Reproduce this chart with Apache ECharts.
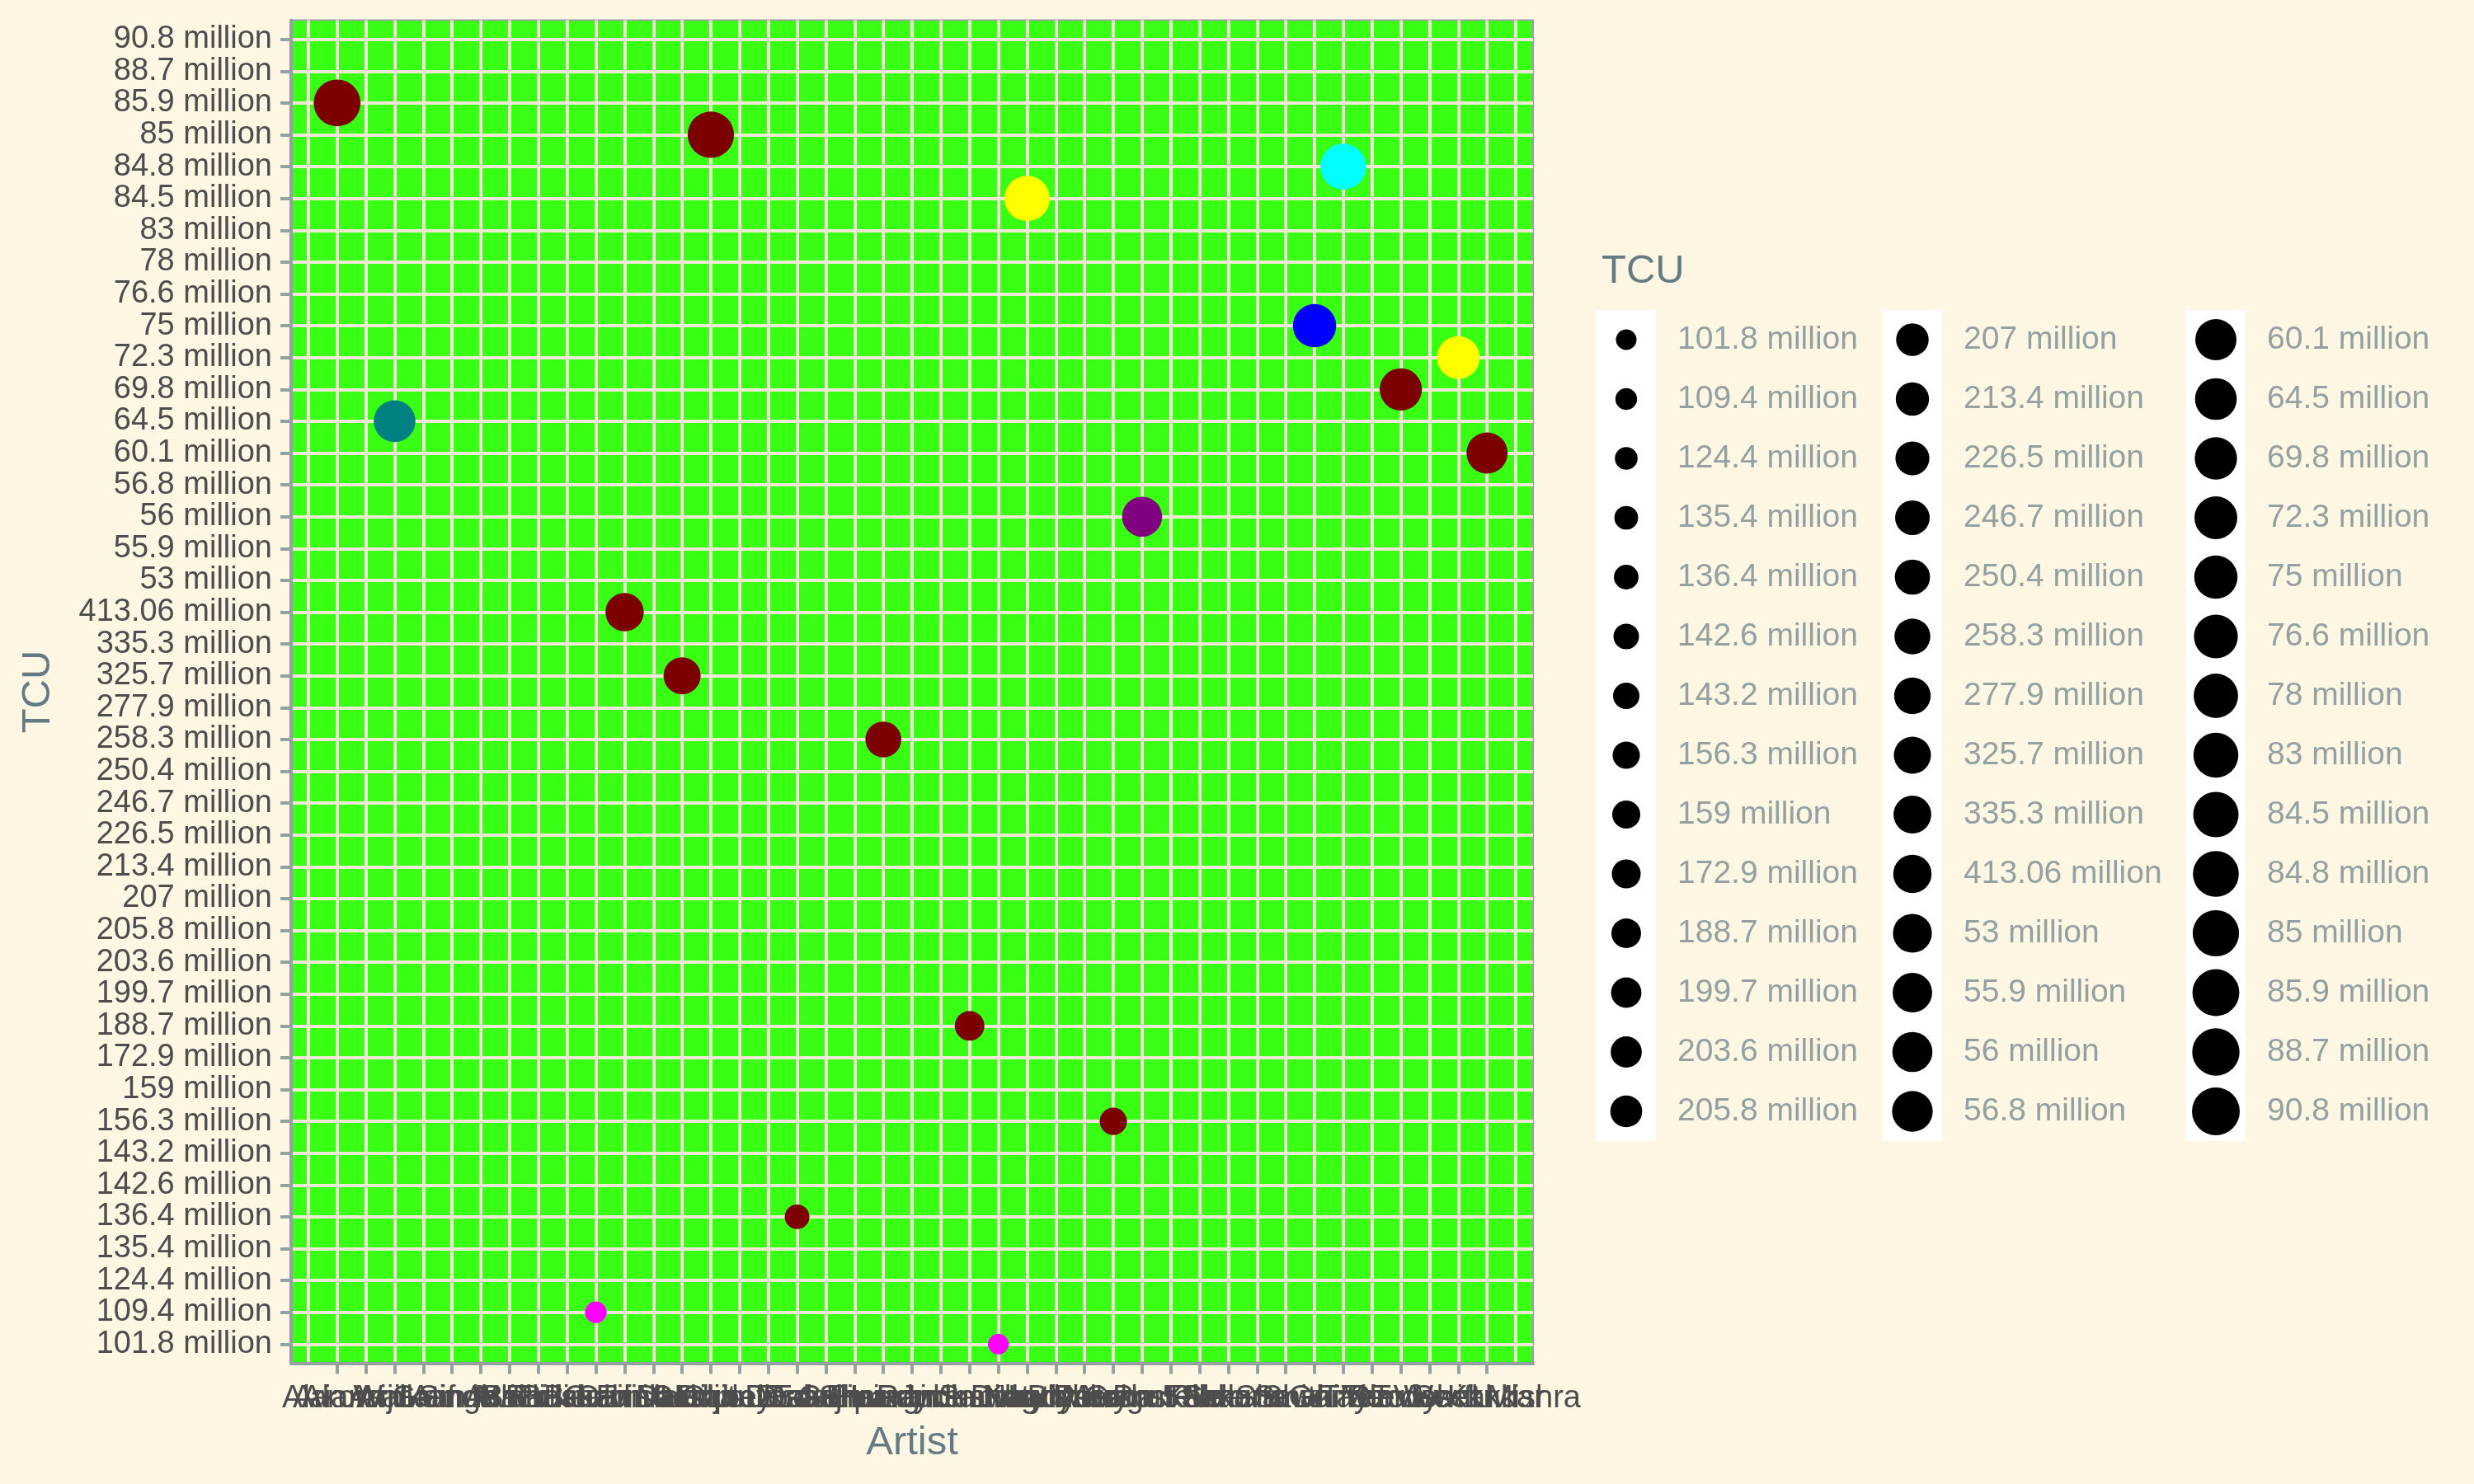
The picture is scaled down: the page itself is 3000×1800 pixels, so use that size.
<!DOCTYPE html>
<html><head><meta charset="utf-8">
<script src="https://cdn.jsdelivr.net/npm/echarts@6/dist/echarts.min.js"></script>
<style>html,body{margin:0;padding:0;background:#FDF6E3}#c{width:3000px;height:1800px}</style>
</head><body><div id="c"></div>
<script>
// ---------------- data ----------------
const artists = [
  'Adele','Akon','Alan Walker','Ariana Grande','Arijit Singh','Armaan Malik','Atif Aslam','Avicii',
  'B Praak','Badshah','Billie Eilish','Bruno Mars','Calvin Harris','Camila Cabello','Coldplay',
  'Darshan Raval','Diljit Dosanjh','Drake','Dua Lipa','Ed Sheeran','Eminem','Guru Randhawa',
  'Harrdy Sandhu','Imagine Dragons','Jubin Nautiyal','Justin Bieber','Katy Perry','Lady Gaga',
  'Maroon 5','Marshmello','Neha Kakkar','Post Malone','Rihanna','Sam Smith','Selena Gomez',
  'Shakira','Shawn Mendes','Sia','Taylor Swift','The Weeknd','Tony Kakkar','Vishal Mishra','Yash Thakur'
];
// TCU levels in the order of the (text-sorted) axis, bottom to top
const tcuLevels = [
  '101.8 million','109.4 million','124.4 million','135.4 million','136.4 million','142.6 million',
  '143.2 million','156.3 million','159 million','172.9 million','188.7 million','199.7 million',
  '203.6 million','205.8 million','207 million','213.4 million','226.5 million','246.7 million',
  '250.4 million','258.3 million','277.9 million','325.7 million','335.3 million','413.06 million',
  '53 million','55.9 million','56 million','56.8 million','60.1 million','64.5 million','69.8 million',
  '72.3 million','75 million','76.6 million','78 million','83 million','84.5 million','84.8 million',
  '85 million','85.9 million','88.7 million','90.8 million'
];
const pointArtist = [
  'Akon','Ariana Grande','Billie Eilish','Bruno Mars','Camila Cabello','Coldplay','Drake','Eminem',
  'Imagine Dragons','Jubin Nautiyal','Justin Bieber','Maroon 5','Marshmello','Shakira','Shawn Mendes',
  'Taylor Swift','Tony Kakkar','Vishal Mishra'
];
const pointTCU = [
  '85.9 million','64.5 million','109.4 million','413.06 million','325.7 million','85 million',
  '136.4 million','258.3 million','188.7 million','101.8 million','84.5 million','156.3 million',
  '56 million','75 million','84.8 million','69.8 million','72.3 million','60.1 million'
];
const pointGroup = ['A','B','C','A','A','A','A','A','A','C','E','A','D','F','G','A','E','A'];

// ---------------- styles ----------------
const groupColours = {A:'#7D0000', B:'#008080', C:'#FF00FF', D:'#800080', E:'#FFFF00', F:'#0000FF', G:'#00FFFF'};
const FONT = 'Liberation Sans, Arial, Helvetica, sans-serif';
const sizeFor = i => Math.sqrt(25*25 + (58*58 - 25*25) * i / (tcuLevels.length - 1));
const xIdx = artists.map((_, i) => i);
const yIdx = tcuLevels.map((_, i) => i);

const legendCols = [0,1,2].map(c => tcuLevels.slice(c*14, c*14 + 14));
const legendLeft = [1936, 2283, 2651];

const chart = echarts.init(document.getElementById('c'), null, {renderer:'canvas'});

const grids = [{
  left: 353, top: 24.5, width: 1506, height: 1629,
  show: true, backgroundColor: '#39FF14', borderColor: '#93A1A1', borderWidth: 2
}].concat(legendCols.map((_, c) => ({
  left: legendLeft[c], top: 376, width: 72, height: 1008,
  show: true, backgroundColor: '#FFFFFF', borderWidth: 0
})));

const xAxes = [{
  type: 'value', gridIndex: 0, min: -0.6, max: artists.length - 0.4,
  name: 'Artist', nameLocation: 'middle', nameGap: 72,
  nameTextStyle: {color:'#657B83', fontSize: 49, fontFamily: FONT},
  axisLine: {show: true, onZero: false, lineStyle: {color:'#93A1A1', width: 4}},
  axisTick: {show: true, length: 13, customValues: xIdx, lineStyle: {color:'#93A1A1', width: 4}},
  axisLabel: {customValues: xIdx, margin: 24, color:'#4D4D4D', fontSize: 38, fontFamily: FONT,
    formatter: v => artists[Math.round(v)]},
  splitLine: {show: true, lineStyle: {color:'#EEE8D5', width: 4}}
}].concat(legendCols.map((_, c) => ({
  type: 'category', gridIndex: c + 1, data: ['key'], show: false
})));

const yAxes = [{
  type: 'value', gridIndex: 0, min: -0.6, max: tcuLevels.length - 0.4,
  name: 'TCU', nameLocation: 'middle', nameGap: 282, nameRotate: 90,
  nameTextStyle: {color:'#657B83', fontSize: 49, fontFamily: FONT},
  axisLine: {show: true, onZero: false, lineStyle: {color:'#93A1A1', width: 4}},
  axisTick: {show: true, length: 13, customValues: yIdx, lineStyle: {color:'#93A1A1', width: 4}},
  axisLabel: {customValues: yIdx, margin: 23, color:'#4D4D4D', fontSize: 38, fontFamily: FONT,
    formatter: v => tcuLevels[Math.round(v)]},
  splitLine: {show: true, lineStyle: {color:'#EEE8D5', width: 4}}
}].concat(legendCols.map((col, c) => ({
  type: 'category', gridIndex: c + 1, data: col, inverse: true, position: 'right',
  axisLine: {show: false}, axisTick: {show: false}, splitLine: {show: false},
  axisLabel: {interval: 0, margin: 26, color:'#93A1A1', fontSize: 39, fontFamily: FONT}
})));

const mainData = pointArtist.map((a, i) => {
  const yi = tcuLevels.indexOf(pointTCU[i]);
  return {value: [artists.indexOf(a), yi], symbolSize: sizeFor(yi),
          itemStyle: {color: groupColours[pointGroup[i]], opacity: 1}};
});

const series = [{
  type: 'scatter', xAxisIndex: 0, yAxisIndex: 0, data: mainData, symbol: 'circle',
  itemStyle: {opacity: 1}, emphasis: {disabled: true}
}].concat(legendCols.map((col, c) => ({
  type: 'scatter', xAxisIndex: c + 1, yAxisIndex: c + 1, symbol: 'circle',
  data: col.map(l => ({value: ['key', l], symbolSize: sizeFor(tcuLevels.indexOf(l))})),
  itemStyle: {color: '#000000', opacity: 1}, emphasis: {disabled: true}
})));

chart.setOption({
  backgroundColor: '#FDF6E3',
  animation: false,
  title: {text: 'TCU', left: 1937, top: 300,
    textStyle: {color:'#657B83', fontSize: 49, fontWeight: 'normal', fontFamily: FONT}},
  grid: grids, xAxis: xAxes, yAxis: yAxes, series: series
});
</script></body></html>
